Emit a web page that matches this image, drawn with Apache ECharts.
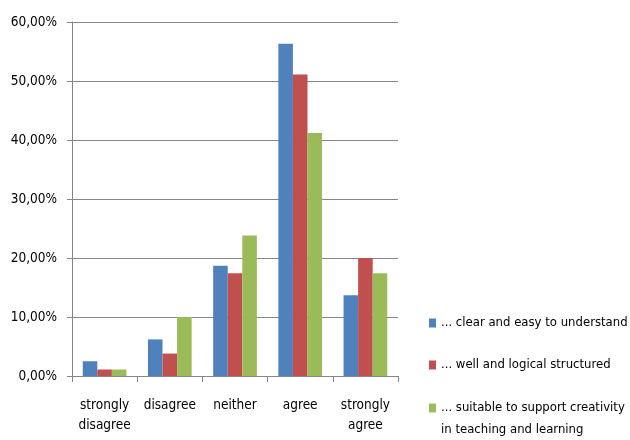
<!DOCTYPE html>
<html>
<head>
<meta charset="utf-8">
<script src="https://cdn.jsdelivr.net/npm/echarts@6/dist/echarts.min.js"></script>
<style>
  html, body { margin: 0; padding: 0; background: #fff; }
  #chart { width: 630px; height: 440px; }
</style>
</head>
<body>
<div id="chart"></div>
<script>
// answers per category, in percent
var categories = ['strongly\ndisagree', 'disagree', 'neither', 'agree', 'strongly\nagree'];
var seriesNames = [
    '... clear and easy to understand',
    '... well and logical structured',
    '... suitable to support creativity\nin teaching and learning'
];
var clearValues = [2.5, 6.2, 18.7, 56.3, 13.7];
var structuredValues = [1.1, 3.8, 17.4, 51.1, 20.0];
var creativityValues = [1.1, 10.0, 23.8, 41.2, 17.4];
var colors = ['#4F81BD', '#C0504D', '#9BBB59'];

var font = "'DejaVu Sans Condensed', sans-serif";
var chart = echarts.init(document.getElementById('chart'));

function bar(name, data, color) {
    return {
        name: name,
        type: 'bar',
        data: data,
        barGap: '0%',
        barCategoryGap: '33%',
        itemStyle: { color: color },
        emphasis: { disabled: true }
    };
}

var legendText = { fontFamily: font, fontSize: 13, color: '#000', lineHeight: 22 };

var option = {
    animation: false,
    textStyle: { fontFamily: font },
    grid: { left: 72, right: 232, top: 22, bottom: 64 },
    legend: [
        {
            orient: 'vertical',
            left: 424,
            top: 307,
            itemWidth: 7,
            itemHeight: 9,
            itemGap: 20,
            icon: 'rect',
            data: [seriesNames[0], seriesNames[1]],
            textStyle: legendText
        },
        {
            // empty first line so the square sits beside the first text line
            orient: 'vertical',
            left: 424,
            top: 370,
            itemWidth: 7,
            itemHeight: 9,
            icon: 'rect',
            data: [seriesNames[2]],
            formatter: function (name) { return '\n' + name; },
            textStyle: legendText
        }
    ],
    xAxis: {
        type: 'category',
        data: categories,
        axisLine: { lineStyle: { color: '#868686' } },
        axisTick: { show: true, length: 6, lineStyle: { color: '#868686' } },
        axisLabel: {
            color: '#000',
            fontSize: 13.5,
            lineHeight: 20,
            margin: 19,
            interval: 0
        }
    },
    yAxis: {
        type: 'value',
        min: 0,
        max: 60,
        interval: 10,
        axisLine: { show: true, lineStyle: { color: '#868686' } },
        axisTick: { show: true, length: 5, lineStyle: { color: '#868686' } },
        splitLine: { lineStyle: { color: '#868686' } },
        axisLabel: {
            color: '#000',
            fontSize: 13.5,
            margin: 15,
            formatter: function (v) { return v.toFixed(2).replace('.', ',') + '%'; }
        }
    },
    series: [
        bar(seriesNames[0], clearValues, colors[0]),
        bar(seriesNames[1], structuredValues, colors[1]),
        bar(seriesNames[2], creativityValues, colors[2])
    ]
};
chart.setOption(option);
</script>
</body>
</html>
